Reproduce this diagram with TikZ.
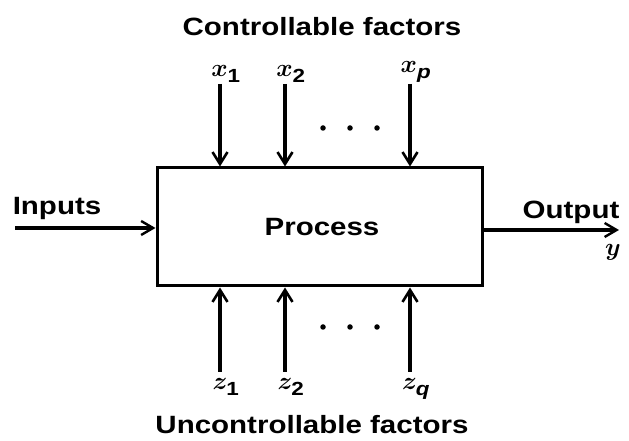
\documentclass[tikz,border=0pt]{standalone}
\usepackage{fontspec}
\newfontfamily\lab[FakeStretch=1.18]{Liberation Sans Bold}
\newcommand{\subl}[1]{\raisebox{-3pt}{\lab\fontsize{19}{20}\selectfont #1}}
\usetikzlibrary{arrows.meta}
\begin{document}
\begin{tikzpicture}[x=1pt,y=1pt,
  txt/.style={font=\lab\fontsize{25}{28}\selectfont, inner sep=0pt},
  mth/.style={font=\fontsize{28}{30}\selectfont\boldmath, inner sep=0pt},
  fac/.style={line width=4.6pt, -{Straight Barb[length=12pt,width=15pt,line width=2.6pt]}},
  io/.style={line width=3.4pt, -{Straight Barb[length=12pt,width=14pt,line width=2.4pt]}},
  dot/.style={circle, fill=black, inner sep=0pt, minimum size=5.5pt}]
\useasboundingbox (0,0) rectangle (629,441);
\node[draw, line width=3pt, minimum width=325pt, minimum height=118pt, inner sep=0pt] (box) at (319.5,214) {};
\node[txt] (proc) at (322,214) {Process};
% top
\node[txt] (ctl) at (322,414) {Controllable factors};
\coordinate (x1s) at (220,357);
\coordinate (x2s) at (285,357);
\coordinate (xps) at (410,357);
\node[mth, anchor=south] (x1) at (226,358) {$x_{\subl{1}}$};
\node[mth, anchor=south] (x2) at (291,358) {$x_{\subl{2}}$};
\node[mth, anchor=south] (xp) at (416,358) {$x_{\subl{\itshape p}}$};
\draw[fac] (x1s) -- (x1s |- box.north);
\draw[fac] (x2s) -- (x2s |- box.north);
\draw[fac] (xps) -- (xps |- box.north);
\node[dot] (td1) at (323,313) {};
\node[dot] (td2) at (350,313) {};
\node[dot] (td3) at (377,313) {};
% bottom
\coordinate (z1s) at (220,69);
\coordinate (z2s) at (285,69);
\coordinate (zqs) at (410,69);
\node[mth, anchor=north] (z1) at (226,63) {$z_{\subl{1}}$};
\node[mth, anchor=north] (z2) at (291,63) {$z_{\subl{2}}$};
\node[mth, anchor=north] (zq) at (416,63) {$z_{\subl{\itshape q}}$};
\draw[fac] (z1s) -- (z1s |- box.south);
\draw[fac] (z2s) -- (z2s |- box.south);
\draw[fac] (zqs) -- (zqs |- box.south);
\node[dot] (bd1) at (323,114) {};
\node[dot] (bd2) at (350,114) {};
\node[dot] (bd3) at (377,114) {};
\node[txt] (unc) at (312,16) {Uncontrollable factors};
% sides
\coordinate (ins) at (15,213);
\draw[io] (ins) -- (ins -| box.west);
\node[txt] (inp) at (57,233) {Inputs};
\coordinate (oute) at (619,211);
\draw[io] (box.east |- oute) -- (oute);
\node[txt] (outp) at (571,229) {Output};
\node[mth] (y) at (613,189) {$y$};
\end{tikzpicture}
\end{document}
